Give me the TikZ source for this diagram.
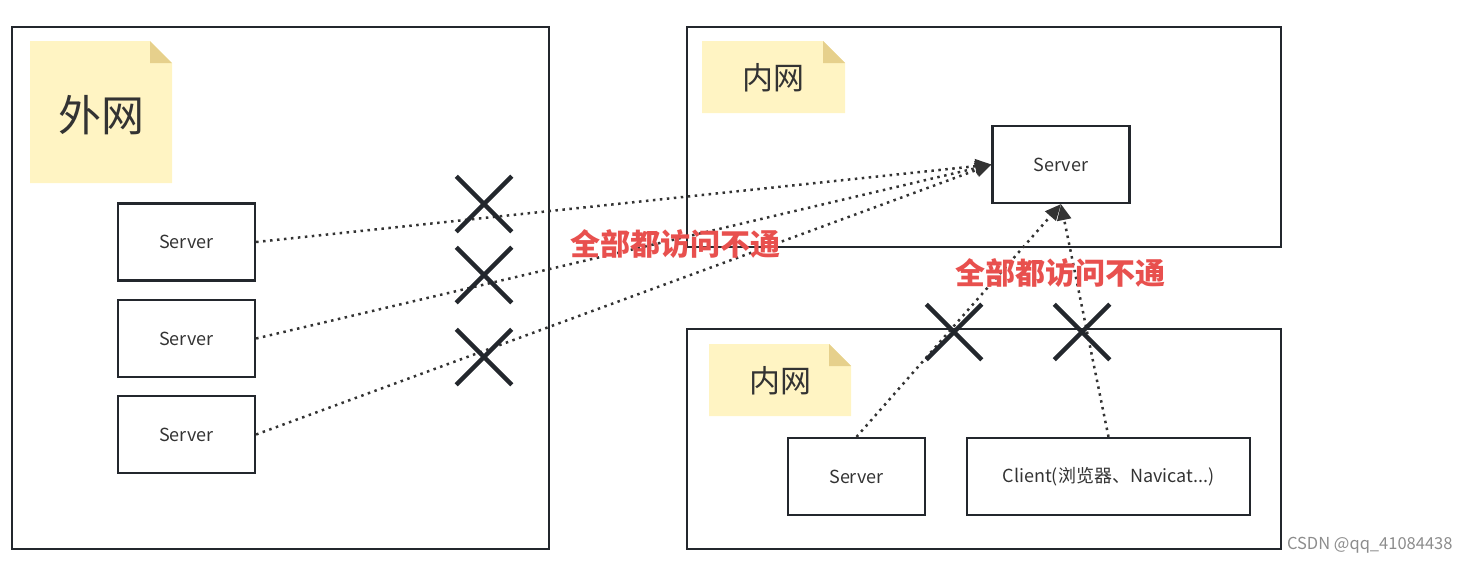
\documentclass[tikz,border=0pt]{standalone}
\usepackage{fontspec}
\setmainfont{Noto Sans CJK SC}
\usetikzlibrary{arrows.meta,shapes.misc,calc}

\definecolor{linecol}{HTML}{23272D}
\definecolor{notefill}{HTML}{FFF4C3}
\definecolor{notefold}{HTML}{E6D08C}
\definecolor{warnred}{HTML}{E8504E}

\begin{document}
\begin{tikzpicture}[
    x=1pt,y=-1pt,
    zone/.style={draw=linecol,line width=2.2pt},
    srv/.style={rectangle,draw=linecol,line width=2.2pt,minimum width=137pt,minimum height=77pt,font=\fontsize{18}{20}\selectfont,text=black!80},
    notetxt/.style={inner sep=0pt,text=black!80},
    blocked/.style={cross out,draw=linecol,line width=4.5pt,minimum size=51pt,inner sep=0pt},
    dotarrow/.style={draw=black!80,line width=2.5pt,dash pattern=on 2.5pt off 4.5pt,-{Triangle[length=16pt,width=14pt]}},
    warn/.style={text=warnred,font=\fontsize{30}{33}\selectfont\bfseries}
]
    \useasboundingbox (0,0) rectangle (1470,563);

    % network zones
    \draw[zone] (12,27) rectangle (549,549);
    \draw[zone] (687,27) rectangle (1281,247);
    \draw[zone] (687,329) rectangle (1281,549);

    % sticky notes
    \fill[notefill] (30,41) -- (150,41) -- (172,63) -- (172,183) -- (30,183) -- cycle;
    \fill[notefold] (150,41) -- (172,63) -- (150,63) -- cycle;
    \node[notetxt,font=\fontsize{43}{46}\selectfont] (outer) at (101,115) {外网};

    \fill[notefill] (702,41) -- (823,41) -- (845,63) -- (845,113) -- (702,113) -- cycle;
    \fill[notefold] (823,41) -- (845,63) -- (823,63) -- cycle;
    \node[notetxt,font=\fontsize{31}{34}\selectfont] (innerA) at (773,78) {内网};

    \fill[notefill] (709,344) -- (829,344) -- (851,366) -- (851,416) -- (709,416) -- cycle;
    \fill[notefold] (829,344) -- (851,366) -- (829,366) -- cycle;
    \node[notetxt,font=\fontsize{31}{34}\selectfont] (innerB) at (780,381) {内网};

    % servers
    \node[srv] (srvA) at (186.5,242) {Server};
    \node[srv] (srvB) at (186.5,338.5) {Server};
    \node[srv] (srvC) at (186.5,434.5) {Server};
    \node[srv] (srvT) at (1061,164.5) {Server};
    \node[srv] (srvL) at (856.5,476.5) {Server};
    \node[srv,minimum width=283pt] (client) at (1108.5,476.5) {Client(浏览器、Navicat...)};

    % connections
    \draw[dotarrow] (srvA.east) -- (srvT.west);
    \draw[dotarrow] (srvB.east) -- (srvT.west);
    \draw[dotarrow] (srvC.east) -- (srvT.west);
    \draw[dotarrow] (srvL.north) -- (srvT.south);
    \draw[dotarrow] (client.north) -- (srvT.south);

    % blocked marks
    \node[blocked] (xA) at (484,204) {};
    \node[blocked] (xB) at (484,275) {};
    \node[blocked] (xC) at (484,357) {};
    \node[blocked] (xD) at (954,332) {};
    \node[blocked] (xE) at (1082,332) {};

    \node[warn] (warnA) at (675,244) {全部都访问不通};
    \node[warn] (warnB) at (1060,273) {全部都访问不通};

    \node[text=black!45,font=\fontsize{16.5}{18}\selectfont,anchor=east] (mark) at (1456,545) {CSDN @qq\_41084438};
\end{tikzpicture}
\end{document}
